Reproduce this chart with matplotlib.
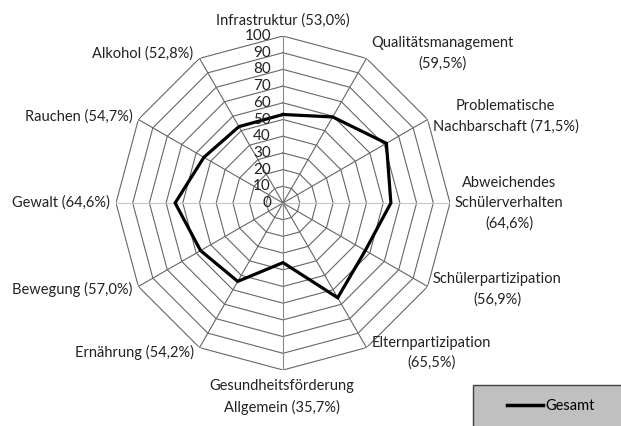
import numpy as np
import matplotlib
matplotlib.use("Agg")
import matplotlib.pyplot as plt
from matplotlib.patches import Rectangle
from matplotlib.lines import Line2D

plt.rcParams['font.family'] = ['Lato', 'DejaVu Sans']

categories = ["Infrastruktur", "Qualitätsmanagement", "Problematische\nNachbarschaft",
              "Abweichendes\nSchülerverhalten", "Schülerpartizipation", "Elternpartizipation",
              "Gesundheitsförderung\nAllgemein", "Ernährung", "Bewegung", "Gewalt",
              "Rauchen", "Alkohol"]
values = [53.0, 59.5, 71.5, 64.6, 56.9, 65.5, 35.7, 54.2, 57.0, 64.6, 54.7, 52.8]
value_labels = ["(53,0%)", "(59,5%)", "(71,5%)", "(64,6%)", "(56,9%)", "(65,5%)",
                "(35,7%)", "(54,2%)", "(57,0%)", "(64,6%)", "(54,7%)", "(52,8%)"]
# how the value is joined to the category name in each label
joiners = [" ", "\n", " ", "\n", "\n", "\n", " ", " ", " ", " ", " ", " "]
ticks = [0, 10, 20, 30, 40, 50, 60, 70, 80, 90, 100]
series_name = "Gesamt"

W, H = 621, 426
fig = plt.figure(figsize=(W / 100, H / 100), dpi=100)
cx, cy, R = 283, 203, 167
ax = fig.add_axes([(cx - R) / W, 1 - (cy + R) / H, 2 * R / W, 2 * R / H], projection='polar')
ax.set_theta_zero_location('N')
ax.set_theta_direction(-1)
ax.set_ylim(0, 100)
ax.axis('off')

n = len(categories)
ang = np.arange(n) * 2 * np.pi / n
ang_c = np.append(ang, ang[0])

# rings
for t in ticks[1:]:
    ax.plot(ang_c, [t] * (n + 1), color='#666666', lw=0.8, zorder=1)
# spokes
for i, a in enumerate(ang):
    deg = np.degrees(a)
    if abs(deg - 90) < 1 or abs(deg - 270) < 1:
        col = '#c8c8c8'
    elif abs(deg) < 1 or abs(deg - 180) < 1:
        col = '#8a8a8a'
    else:
        col = '#666666'
    ax.plot([a, a], [0, 100], color=col, lw=0.8, zorder=1)

# series
ax.plot(ang_c, values + values[:1], color='black', lw=2.3, zorder=3, solid_joinstyle='miter')

# tick labels
for t in ticks:
    ax.annotate(str(t), xy=(0, t), xytext=(-12, 0), textcoords='offset pixels',
                ha='right', va='center', fontsize=11, color='#222222')

# category labels
fs = 10.5
for i, a in enumerate(ang):
    label = categories[i] + joiners[i] + value_labels[i]
    deg = np.degrees(a)
    c = np.cos(a)
    if deg < 1:
        ha, va, dx, dy = 'center', 'bottom', 0, 8
    elif abs(deg - 180) < 1:
        ha, va, dx, dy = 'center', 'top', -1, -9
    elif deg < 180:
        ha, va, dx, dy = 'left', 'center', 5, 6 * c
    else:
        ha, va, dx, dy = 'right', 'center', -6, 6 * c
    ax.annotate(label, xy=(a, 100), xytext=(dx, dy), textcoords='offset pixels',
                ha=ha, va=va, multialignment='center', fontsize=fs, color='#222222',
                linespacing=1.55)

# legend box
fig.patches.append(Rectangle((473 / W, -0.1), (W + 10 - 473) / W, 0.1 + (H - 385) / H,
                             transform=fig.transFigure, facecolor='#c0c0c0',
                             edgecolor='#404040', lw=1.0, zorder=0))
handle = Line2D([], [], color='black', lw=2.5)
fig.legend([handle], [series_name], loc='center left',
           bbox_to_anchor=(507 / W, 1 - 406 / H), frameon=False, fontsize=fs,
           handlelength=2.5, handletextpad=0.1, borderpad=0, borderaxespad=0)

fig.savefig('out.png', dpi=100)
